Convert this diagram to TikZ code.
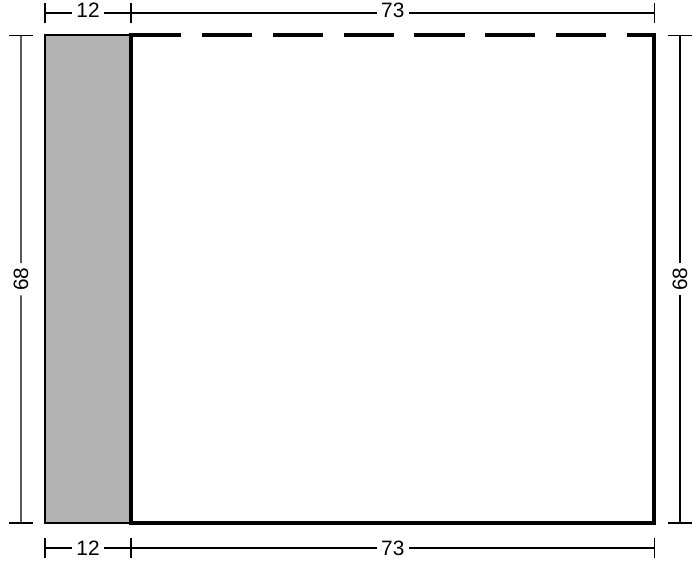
\documentclass[tikz,border=0pt]{standalone}
\usepackage{fontspec}
\setmainfont{Liberation Sans}
\usepackage{xcolor}
\usetikzlibrary{calc}

\begin{document}
\begin{tikzpicture}[x=0.17925cm,y=0.17925cm,
	dimline/.style={line width=0.8pt},
	dimlabel/.style={font=\fontsize{14.8}{17}\selectfont, inner sep=3pt}]
	\def\G{12}
	\def\W{85}
	\def\H{68}
	\def\tk{1.45}
	\def\tv{1.65}
	\useasboundingbox (-6.276,-7.113) rectangle (91.35,72.94);
	
	% grey strip
	\draw[line width=1.4pt, fill=black!30] (0,0) rectangle (\G,\H);
	% main panel, top edge dashed
	\draw[line width=2.85pt, line cap=rect] (\W,\H) -- (\W,0) -- (\G,0) -- (\G,\H);
	\draw[line width=2.85pt, dash pattern=on 35.6pt off 14.8pt] (\G,\H) -- (\W,\H);
	
	% top: 12 | 73
	\coordinate (t0) at (0,71.13);
	\coordinate (t1) at (\G,71.13);
	\coordinate (t2) at (\W,71.13);
	\node[dimlabel, text depth=3.6pt] (top12) at ($(t0)!0.5!(t1)$) {12};
	\node[dimlabel, text depth=3.6pt] (top73) at ($(t1)!0.5!(t2)$) {73};
	\draw[dimline] (t0) -- (top12) -- (t1);
	\draw[dimline] (t1) -- (top73) -- (t2);
	
	% bottom: 12 | 73
	\coordinate (b0) at (0,-3.49);
	\coordinate (b1) at (\G,-3.49);
	\coordinate (b2) at (\W,-3.49);
	\node[dimlabel] (bot12) at ($(b0)!0.5!(b1)$) {12};
	\node[dimlabel] (bot73) at ($(b1)!0.5!(b2)$) {73};
	\draw[dimline] (b0) -- (bot12) -- (b1);
	\draw[dimline] (b1) -- (bot73) -- (b2);
	
	\foreach \c in {t0,t1,t2,b0,b1,b2}
		\draw[dimline] ($(\c)+(0,-\tk)$) -- ($(\c)+(0,\tk)$);
	
	% left and right: 68
	\coordinate (l0) at (-3.35,0);
	\coordinate (l1) at (-3.35,\H);
	\coordinate (r0) at (88.56,0);
	\coordinate (r1) at (88.56,\H);
	\node[dimlabel, rotate=90] (left68) at ($(l0)!0.5!(l1)$) {68};
	\node[dimlabel, rotate=90] (right68) at ($(r0)!0.5!(r1)$) {68};
	\draw[dimline] (l0) -- (left68) -- (l1);
	\draw[dimline] (r0) -- (right68) -- (r1);
	
	\foreach \c in {l0,l1,r0,r1}
		\draw[dimline] ($(\c)+(-\tv,0)$) -- ($(\c)+(\tv,0)$);
\end{tikzpicture}
\end{document}
